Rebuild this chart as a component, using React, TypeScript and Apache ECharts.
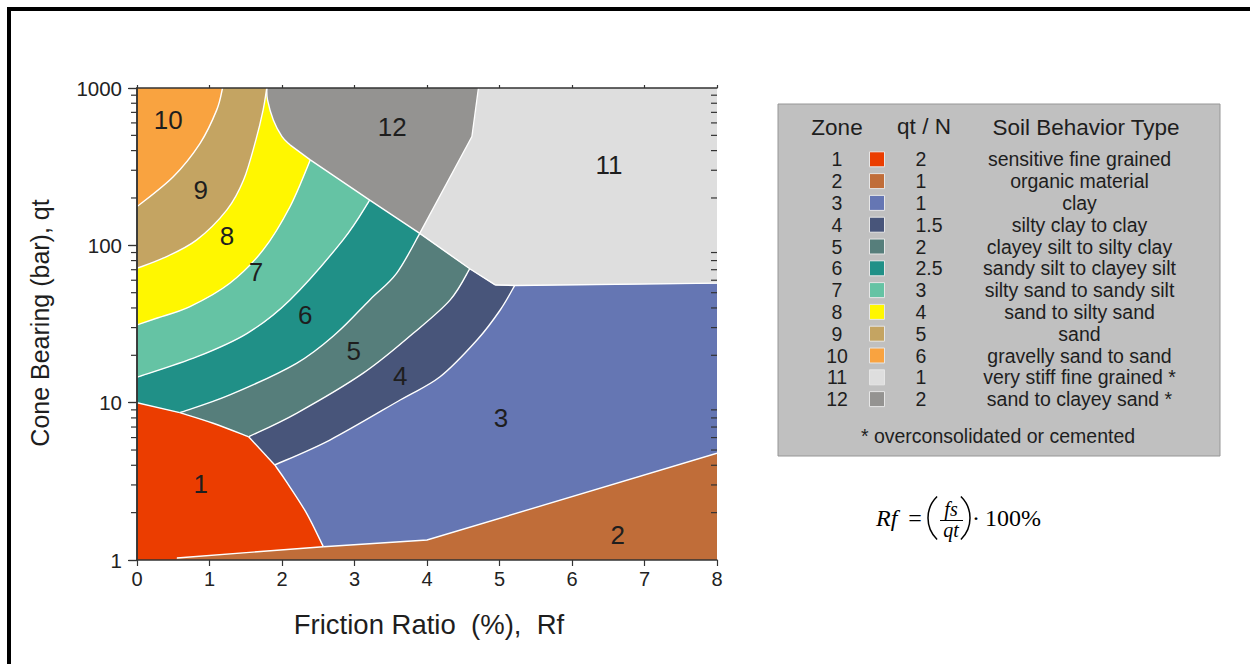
import React, { useEffect, useRef } from "react";
import * as echarts from "echarts";

type Pt = [number, number];

// ---- zone boundaries (Rf %, qt bar) ----
const b10_9: Pt[] = [[0, 176], [0.5, 273], [0.87, 445], [1.1, 726], [1.18, 1000]];
const b9_8: Pt[] = [[0, 71.5], [0.36, 82.8], [0.82, 108], [1.24, 168], [1.47, 260], [1.64, 468], [1.74, 726], [1.79, 1000]];
const b12_8: Pt[] = [[1.79, 1000], [1.8, 840], [1.88, 627], [2.0, 491], [2.11, 435]];
const bDiag: Pt[] = [[2.11, 435], [2.39, 349], [3.21, 194], [3.9, 119], [4.59, 71], [4.94, 56]];
const b12_11: Pt[] = [[3.9, 119], [4.62, 491], [4.71, 1000]];
const b11_3: Pt[] = [[4.94, 56], [5.21, 55.6], [8, 57.5]];
const b8_7: Pt[] = [[0, 31.2], [0.27, 34.4], [0.73, 40.8], [1.28, 57.4], [1.74, 93.5], [2.11, 176], [2.39, 349]];
const b7_6: Pt[] = [[0, 14.5], [0.83, 19.6], [1.52, 27.6], [2.11, 45], [2.84, 108], [3.21, 194]];
const b6_5: Pt[] = [[0.59, 8.64], [1.28, 11.2], [2.2, 17.8], [2.75, 27.6], [3.21, 45], [3.58, 66.4], [3.9, 119]];
const b5_4: Pt[] = [[1.54, 6.07], [2.2, 8.56], [3.12, 15.4], [3.81, 27.6], [4.32, 45], [4.59, 71]];
const b4_3: Pt[] = [[1.9, 4.02], [2.66, 5.79], [3.63, 10.4], [4.18, 14.6], [4.69, 25.0], [5.01, 38.8], [5.21, 55.6]];
const b1_6: Pt[] = [[0, 10], [0.59, 8.64]];
const b1_5: Pt[] = [[0.59, 8.64], [1.05, 7.4], [1.54, 6.07]];
const b1_4: Pt[] = [[1.54, 6.07], [1.9, 4.02]];
const b1_3: Pt[] = [[1.9, 4.02], [2.06, 3.15], [2.34, 1.98], [2.57, 1.215]];
const b1_2: Pt[] = [[0.55, 1.03], [2.57, 1.215]];
const b3_2: Pt[] = [[2.57, 1.215], [4.0, 1.34], [8, 4.77]];

// ---- legend / zone data ----
const zoneIds = ["1", "2", "3", "4", "5", "6", "7", "8", "9", "10", "11", "12"];
const zoneColors = ["#EB3D00", "#C06D39", "#6576B3", "#48557A", "#567E7B", "#209087", "#65C3A4", "#FFF700", "#C4A462", "#F9A340", "#DEDEDE", "#949391"];
const zoneQtN = ["2", "1", "1", "1.5", "2", "2.5", "3", "4", "5", "6", "1", "2"];
const zoneSoil = [
  "sensitive fine grained",
  "organic material",
  "clay",
  "silty clay to clay",
  "clayey silt to silty clay",
  "sandy silt to clayey silt",
  "silty sand to sandy silt",
  "sand to silty sand",
  "sand",
  "gravelly sand to sand",
  "very stiff fine grained *",
  "sand to clayey sand *",
];
const zoneLabelPos: Pt[] = [
  [0.88, 3.04], [6.63, 1.44], [5.02, 7.99], [3.63, 14.8], [2.99, 21.3], [2.32, 36.1],
  [1.64, 67.7], [1.24, 115], [0.88, 225], [0.43, 626], [6.51, 324], [3.52, 565],
];
const yMinorTicks = [2, 3, 4, 5, 6, 7, 8, 9, 20, 30, 40, 50, 60, 70, 80, 90, 200, 300, 400, 500, 600, 700, 800, 900];

type Piece = { pts: Pt[]; smooth: boolean };
const SM = new Set<Pt[]>([b10_9, b9_8, b12_8, b8_7, b7_6, b6_5, b5_4, b4_3, b1_5, b1_3]);
const F = (b: Pt[]): Piece => ({ pts: b, smooth: SM.has(b) });
const R = (b: Pt[]): Piece => ({ pts: b.slice().reverse(), smooth: SM.has(b) });
const sub = (b: Pt[], i: number, j: number): Pt[] => b.slice(i, j + 1);
const P = (x: number, y: number): Piece => ({ pts: [[x, y]], smooth: false });

const zonePieces: Piece[][] = [
  [P(0, 1), F(b1_6), F(b1_5), F(b1_4), F(b1_3), R(b1_2), P(0.55, 1)],
  [P(0.55, 1), F(b1_2), F(b3_2), P(8, 1)],
  [F(b1_3), F(b3_2), P(8, 57.5), R(sub(b11_3, 1, 2)), R(b4_3)],
  [F(b1_4), F(b4_3), R(sub(b11_3, 0, 1)), R(sub(bDiag, 4, 5)), R(b5_4)],
  [F(b1_5), F(b5_4), R(sub(bDiag, 3, 4)), R(b6_5)],
  [F(b1_6), F(b6_5), R(sub(bDiag, 2, 3)), R(b7_6)],
  [F(b7_6), R(sub(bDiag, 1, 2)), R(b8_7)],
  [F(b8_7), R(sub(bDiag, 0, 1)), R(b12_8), R(b9_8)],
  [F(b9_8), R(b10_9)],
  [P(0, 1000), F(b10_9)],
  [R(b12_11), F(sub(bDiag, 3, 5)), F(b11_3), P(8, 1000)],
  [F(b12_8), F(sub(bDiag, 0, 3)), F(b12_11)],
];
const boundaryList: Pt[][] = [b10_9, b9_8, b12_8, bDiag, b12_11, b11_3, b8_7, b7_6, b6_5, b5_4, b4_3, b1_6, b1_5, b1_4, b1_3, b1_2, b3_2];

const SANS = '"Liberation Sans", Arial, sans-serif';
const SERIF = '"Liberation Serif", "DejaVu Serif", serif';

function segPath(px: number[][], smooth: boolean, start: boolean): string {
  let s = (start ? "M" : "L") + px[0][0].toFixed(2) + " " + px[0][1].toFixed(2);
  for (let i = 0; i < px.length - 1; i++) {
    const p0 = px[i - 1] || px[i];
    const p1 = px[i];
    const p2 = px[i + 1];
    const p3 = px[i + 2] || px[i + 1];
    if (smooth) {
      const c1x = p1[0] + (p2[0] - p0[0]) / 6;
      const c1y = p1[1] + (p2[1] - p0[1]) / 6;
      const c2x = p2[0] - (p3[0] - p1[0]) / 6;
      const c2y = p2[1] - (p3[1] - p1[1]) / 6;
      s += ` C${c1x.toFixed(2)} ${c1y.toFixed(2)} ${c2x.toFixed(2)} ${c2y.toFixed(2)} ${p2[0].toFixed(2)} ${p2[1].toFixed(2)}`;
    } else {
      s += ` L${p2[0].toFixed(2)} ${p2[1].toFixed(2)}`;
    }
  }
  return s;
}

function txt(text: string, x: number, y: number, font: string, align = "center", extra: any = {}) {
  const { fill, ...rest } = extra;
  return {
    type: "text",
    x,
    y,
    silent: true,
    ...rest,
    style: {
      text,
      font,
      fill: fill || "#1e1e1e",
      textAlign: align,
      textVerticalAlign: "middle",
      align,
      verticalAlign: "middle",
    },
  };
}

export default function App() {
  const ref = useRef<HTMLDivElement>(null);
  useEffect(() => {
    if (!ref.current) return;
    const chart = echarts.init(ref.current, undefined, { renderer: "svg" });

    const axisLine = { show: true, lineStyle: { color: "#333", width: 1.5 } };
    const graphics: any[] = [];
    graphics.push({ type: "rect", shape: { x: 9, y: 9, width: 1300, height: 700 }, style: { fill: "none", stroke: "#000", lineWidth: 4 }, silent: true });
    // legend box
    graphics.push({ type: "rect", shape: { x: 778, y: 104, width: 442, height: 352 }, style: { fill: "#C0C0C0", stroke: "#969696", lineWidth: 1 }, silent: true });
    const hf = `22.5px ${SANS}`;
    graphics.push(txt("Zone", 837, 127, hf));
    graphics.push(txt("qt / N", 924, 126, hf));
    graphics.push(txt("Soil Behavior Type", 1086, 127, hf));
    const rf = `19.5px ${SANS}`;
    zoneIds.forEach((id, i) => {
      const cy = 159.3 + i * 21.8;
      graphics.push(txt(id, 837, cy, rf));
      graphics.push({ type: "rect", shape: { x: 869.5, y: cy - 7.5, width: 15, height: 15 }, style: { fill: zoneColors[i], stroke: "#E6E6E6", lineWidth: 1 }, silent: true });
      graphics.push(txt(zoneQtN[i], 915.5, cy, rf, "left"));
      graphics.push(txt(zoneSoil[i], 1079.5, cy, rf));
    });
    graphics.push(txt("* overconsolidated or cemented", 998, 436, rf));
    // axis titles
    graphics.push(txt("Cone Bearing (bar), qt", 40, 323, `25px ${SANS}`, "center", { rotation: Math.PI / 2 }));
    graphics.push(txt("Friction Ratio  (%),  Rf", 429, 624, `27.5px ${SANS}`));
    // formula
    const fi = `italic 24px ${SERIF}`;
    const fr = `24px ${SERIF}`;
    const blk = { fill: "#000" };
    graphics.push(txt("Rf", 876, 518, fi, "left", blk));
    graphics.push(txt("=", 915, 518, fr, "center", blk));
    const a = 0.8;
    graphics.push({ type: "arc", shape: { cx: 958, cy: 518, r: 30, startAngle: Math.PI - a, endAngle: Math.PI + a, clockwise: true }, style: { stroke: "#000", lineWidth: 1.5, fill: "none" }, silent: true });
    graphics.push({ type: "arc", shape: { cx: 940, cy: 518, r: 30, startAngle: -a, endAngle: a, clockwise: true }, style: { stroke: "#000", lineWidth: 1.5, fill: "none" }, silent: true });
    graphics.push(txt("fs", 951, 509, `italic 20px ${SERIF}`, "center", blk));
    graphics.push({ type: "line", shape: { x1: 940, y1: 520.5, x2: 963, y2: 520.5 }, style: { stroke: "#000", lineWidth: 1 }, silent: true });
    graphics.push(txt("qt", 951, 529.5, `italic 20px ${SERIF}`, "center", blk));
    graphics.push(txt("·", 976, 518, fr, "center", blk));
    graphics.push(txt("100%", 985, 518, fr, "left", blk));

    const option: any = {
      animation: false,
      backgroundColor: "#fff",
      grid: { left: 137, top: 88, width: 580, height: 472, containLabel: false },
      xAxis: [
        {
          type: "value", min: 0, max: 8, interval: 1, position: "bottom", z: 10,
          axisLine, splitLine: { show: false },
          axisTick: { show: true, length: 6, lineStyle: { color: "#333", width: 1.2 } },
          axisLabel: { fontSize: 20, color: "#222", fontFamily: SANS, margin: 9 },
        },
        {
          type: "value", min: 0, max: 8, interval: 1, position: "top", z: 10,
          axisLine, splitLine: { show: false },
          axisTick: { show: true, length: 3, lineStyle: { color: "#333", width: 1.2 } },
          axisLabel: { show: false },
        },
      ],
      yAxis: [
        {
          type: "log", logBase: 10, min: 1, max: 1000, position: "left", z: 10,
          axisLine, splitLine: { show: false },
          axisTick: { show: true, length: 8, lineStyle: { color: "#333", width: 1.2 } },
          axisLabel: { fontSize: 20.5, color: "#222", fontFamily: SANS, margin: 15, formatter: (v: number) => String(Math.round(v)) },
        },
        {
          type: "log", logBase: 10, min: 1, max: 1000, position: "right", z: 10,
          axisLine, splitLine: { show: false },
          axisTick: { show: true, inside: true, length: 9, lineStyle: { color: "#333", width: 1.2 } },
          axisLabel: { show: false },
        },
      ],
      graphic: graphics,
      series: [
        {
          type: "custom", name: "zones", coordinateSystem: "cartesian2d", xAxisIndex: 0, yAxisIndex: 0,
          clip: true, silent: true, z: 2,
          data: zonePieces.map(() => [0, 1]),
          renderItem: (params: any, api: any) => {
            const pieces = zonePieces[params.dataIndex];
            let d = "";
            pieces.forEach((pc, k) => {
              const px = pc.pts.map((p) => api.coord(p));
              d += (k ? " " : "") + segPath(px, pc.smooth, k === 0);
            });
            d += " Z";
            return { type: "path", shape: { pathData: d }, style: { fill: zoneColors[params.dataIndex], stroke: zoneColors[params.dataIndex], lineWidth: 0.5 } };
          },
        },
        {
          type: "custom", name: "boundaries", coordinateSystem: "cartesian2d", xAxisIndex: 0, yAxisIndex: 0,
          clip: true, silent: true, z: 3,
          data: boundaryList.map(() => [0, 1]),
          renderItem: (params: any, api: any) => {
            const b = boundaryList[params.dataIndex];
            const px = b.map((p) => api.coord(p));
            return { type: "path", shape: { pathData: segPath(px, SM.has(b), true) }, style: { fill: "none", stroke: "#fff", lineWidth: 1.4 } };
          },
        },
        {
          type: "custom", name: "labels", coordinateSystem: "cartesian2d", xAxisIndex: 0, yAxisIndex: 0,
          silent: true, z: 4,
          data: zoneLabelPos.map((p) => [p[0], p[1]]),
          renderItem: (params: any, api: any) => {
            const c = api.coord([api.value(0), api.value(1)]);
            return {
              type: "text", x: c[0], y: c[1],
              style: { text: zoneIds[params.dataIndex], font: `26px ${SANS}`, fill: "#1e1e1e", textAlign: "center", textVerticalAlign: "middle", align: "center", verticalAlign: "middle" },
            };
          },
        },
        {
          type: "custom", name: "minorTicks", coordinateSystem: "cartesian2d", xAxisIndex: 0, yAxisIndex: 0,
          silent: true, clip: false, z: 11,
          data: yMinorTicks.map((v) => [0, v]),
          renderItem: (params: any, api: any) => {
            const v = api.value(1);
            const l = api.coord([0, v]);
            const r = api.coord([8, v]);
            const st = { stroke: "#333", lineWidth: 1.2 };
            return {
              type: "group",
              children: [
                { type: "line", shape: { x1: l[0] - 6, y1: l[1], x2: l[0], y2: l[1] }, style: st },
                { type: "line", shape: { x1: r[0] - 6, y1: r[1], x2: r[0], y2: r[1] }, style: st },
              ],
            };
          },
        },
      ],
    };
    chart.setOption(option);
    return () => chart.dispose();
  }, []);
  return <div ref={ref} style={{ position: "fixed", left: 0, top: 0, width: 1250, height: 664 }} />;
}
